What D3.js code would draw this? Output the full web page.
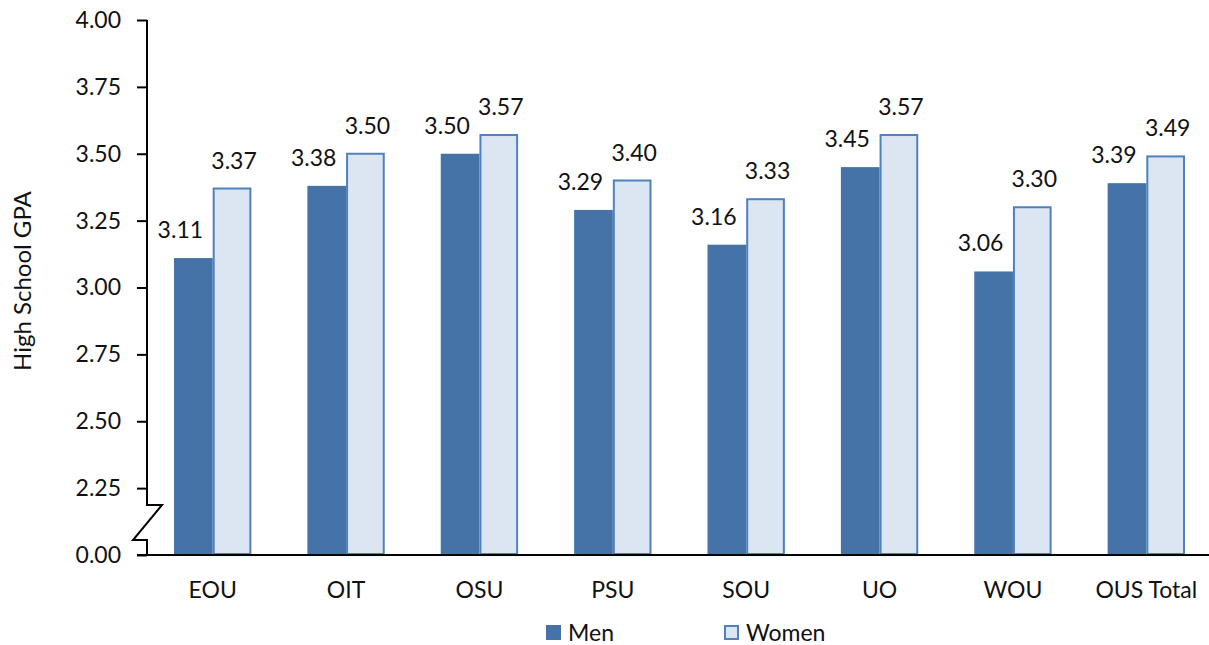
<!DOCTYPE html>
<html><head><meta charset="utf-8">
<script src="https://cdn.jsdelivr.net/npm/d3@7"></script>
<style>body{margin:0;background:#fff;}svg{display:block;font-family:Lato,"Open Sans",sans-serif;}</style>
</head><body>
<svg id="c" width="1209" height="645"></svg>
<script>
const categories = ["EOU","OIT","OSU","PSU","SOU","UO","WOU","OUS Total"];
const men =   [3.11,3.38,3.50,3.29,3.16,3.45,3.06,3.39];
const women = [3.37,3.50,3.57,3.40,3.33,3.57,3.30,3.49];
const seriesNames = ["Men","Women"];
const tickValues = [2.00,2.25,2.50,2.75,3.00,3.25,3.50,3.75,4.00];
const tickLabels = ["0.00","2.25","2.50","2.75","3.00","3.25","3.50","3.75","4.00"];

const svg = d3.select("#c");
const axisX = 147, baseY = 555;
const y = d3.scaleLinear().domain([2,4]).range([baseY, 20]);
const x = d3.scaleBand().domain(categories).range([146,1213]).paddingInner(0.42).paddingOuter(0.21);
const xs = d3.scaleBand().domain(seriesNames).range([0, x.bandwidth()]);

const menColor = "#4572A7", womenFill = "#DCE6F2", womenStroke = "#4F81BD";
const FS = 23;

// bars
const g = svg.append("g");
categories.forEach((c,i)=>{
  g.append("rect").attr("x", x(c)+xs("Men")).attr("y", y(men[i]))
    .attr("width", xs.bandwidth()).attr("height", baseY - y(men[i])).attr("fill", menColor);
  g.append("rect").attr("x", x(c)+xs("Women")+1).attr("y", y(women[i]))
    .attr("width", xs.bandwidth()-2).attr("height", baseY - y(women[i])-1)
    .attr("fill", womenFill).attr("stroke", womenStroke).attr("stroke-width", 2);
  g.append("text").attr("x", x(c)+xs("Men")+xs.bandwidth()/2-13).attr("y", y(men[i])-20)
    .attr("text-anchor","middle").attr("font-size",FS).attr("fill","#111").text(men[i].toFixed(2));
  g.append("text").attr("x", x(c)+xs("Women")+xs.bandwidth()/2+2).attr("y", y(women[i])-20)
    .attr("text-anchor","middle").attr("font-size",FS).attr("fill","#111").text(women[i].toFixed(2));
});

// y axis
const ya = svg.append("g").attr("transform",`translate(${axisX},0)`)
  .call(d3.axisLeft(y).tickValues(tickValues).tickSize(10).tickSizeOuter(0)
    .tickFormat((d,i)=>tickLabels[i]));
ya.select(".domain").remove();
ya.selectAll(".tick line").attr("stroke","#000").attr("stroke-width",2);
ya.selectAll(".tick text").attr("font-size",FS).attr("fill","#111").attr("x",-26).attr("font-family","Lato");

// custom axis line with break
svg.append("path").attr("fill","none").attr("stroke","#000").attr("stroke-width",2)
  .attr("d",`M${axisX},20 L${axisX},505 L162,505 L133,540 L${axisX},540 L${axisX},${baseY}`);
// baseline
svg.append("line").attr("x1",137).attr("x2",1209).attr("y1",baseY).attr("y2",baseY)
  .attr("stroke","#000").attr("stroke-width",2);

// x labels
const xa = svg.append("g").attr("transform",`translate(0,${baseY})`)
  .call(d3.axisBottom(x).tickSize(0));
xa.select(".domain").remove();
xa.selectAll(".tick text").attr("font-size",FS).attr("fill","#111").attr("dy",0).attr("y",43).attr("font-family","Lato");

// y title
svg.append("text").attr("transform","translate(31,281) rotate(-90)").attr("text-anchor","middle")
  .attr("font-size",24).attr("fill","#111").text("High School GPA");

// legend
const lg = svg.append("g");
lg.append("rect").attr("x",546).attr("y",625).attr("width",15).attr("height",15).attr("fill",menColor);
lg.append("text").attr("x",568).attr("y",641).attr("font-size",FS).attr("fill","#111").text(seriesNames[0]);
lg.append("rect").attr("x",725).attr("y",626).attr("width",13).attr("height",13).attr("fill",womenFill).attr("stroke",womenStroke).attr("stroke-width",2);
lg.append("text").attr("x",746).attr("y",641).attr("font-size",FS).attr("fill","#111").text(seriesNames[1]);
</script>
</body></html>
